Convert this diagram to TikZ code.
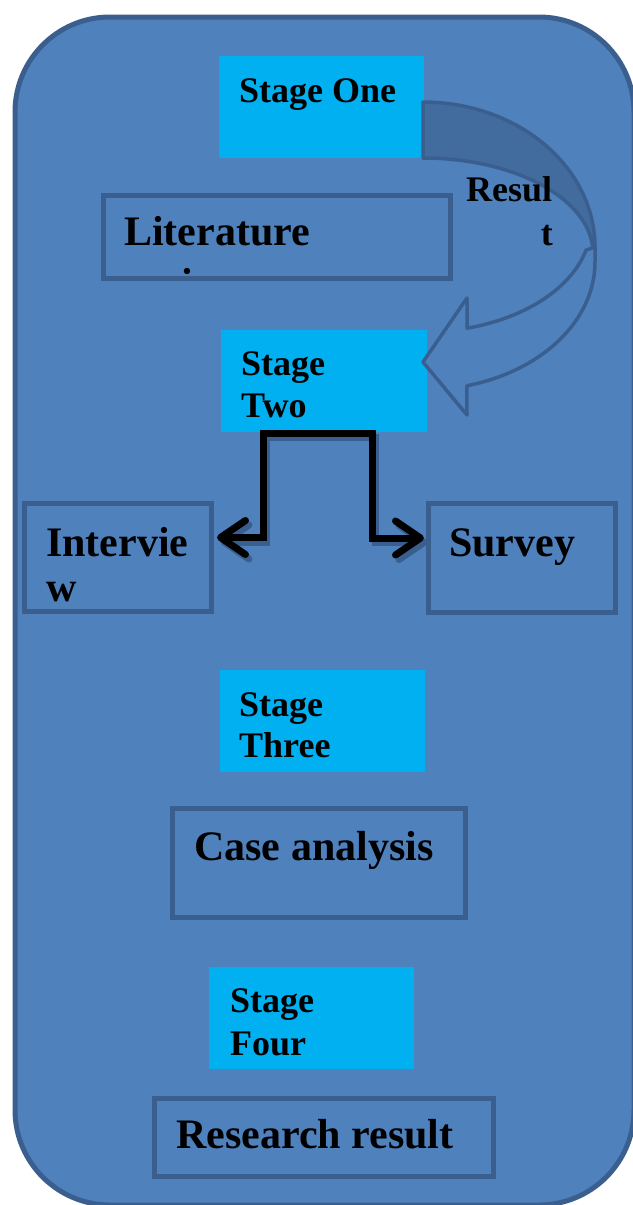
\documentclass[tikz,border=0pt]{standalone}
\usepackage{fontspec}
\setmainfont{Liberation Serif}
\usetikzlibrary{arrows.meta,calc}
\definecolor{bg}{HTML}{4F81BD}
\definecolor{bd}{HTML}{3A5F8E}
\definecolor{cy}{HTML}{00B0F0}
\definecolor{band}{HTML}{426B9E}
\definecolor{shad}{HTML}{3A5F8E}
\begin{document}
\begin{tikzpicture}[x=1pt,y=-1pt,
  stagebox/.style={fill=cy, draw=none, inner sep=0pt, outer sep=0pt, minimum width=205pt, minimum height=102pt, anchor=north west},
  framebox/.style={draw=bd, line width=5pt, inner sep=0pt, outer sep=0pt, anchor=north west},
  stt/.style={font=\fontsize{36}{42}\selectfont\bfseries, inner sep=0pt, anchor=base west},
  bxt/.style={font=\fontsize{42}{48}\selectfont\bfseries, inner sep=0pt, anchor=base west},
  conn/.style={line width=7pt, -{Straight Barb[length=25pt,width=34pt,round]}},
  ribbon/.style={draw=bd, line width=3.5pt, line join=round}
]
\useasboundingbox (0,0) rectangle (632,1205);
\fill[white] (0,0) rectangle (632,1205);
% outer panel
\filldraw[fill=bg, draw=bd, line width=5pt, rounded corners=95pt] (15,17) rectangle (634,1205);

% stage boxes
\node[stagebox] (s1) at (219,56) {};
\node[stagebox, minimum width=206pt] (s2) at (221,330) {};
\node[stagebox] (s3) at (220,670) {};
\node[stagebox] (s4) at (209,967) {};

% Literature box text, clipped to the inside of its frame
\begin{scope}
  \clip (106,198) rectangle (448,275.5);
  \node[bxt] (t2) at (124,245) {Literature};
  \node[bxt] (t3) at (124,297) {review};
\end{scope}

% framed boxes
\node[framebox, minimum width=347pt, minimum height=82.5pt] (lit) at (103.5,195.5) {};
\node[framebox, minimum width=187pt, minimum height=108pt] (iv) at (24.5,503.5) {};
\node[framebox, minimum width=187pt, minimum height=109pt] (sv) at (428.5,503.5) {};
\node[framebox, minimum width=293pt, minimum height=109pt] (ca) at (172.5,808.5) {};
\node[framebox, minimum width=339pt, minimum height=78pt] (rr) at (154.5,1098.5) {};

% curved "Result" arrow: back part
\filldraw[fill=band, ribbon]
  plot[domain=90:0, samples=50] ({423+172*cos(\x)},{247-145*sin(\x)})
  -- plot[domain=0:90, samples=50] ({423+170*cos(\x)},{253-95*sin(\x)})
  -- cycle;
% front part with head
\filldraw[fill=bg, ribbon]
  (595,247)
  -- plot[domain=0:75.2, samples=50] ({423+172*cos(\x)},{262+128*sin(\x)})
  -- (467,415) -- (423,362) -- (467,298)
  -- plot[domain=74.8:14, samples=50] ({423+168*cos(\x)},{224+108*sin(\x)})
  -- cycle;

% connectors from Stage Two
\coordinate (c0) at ($(s2.south)+(-10,1)$);
\begin{scope}[transform canvas={shift={(3.5pt,-4.5pt)}}]
  \draw[conn, shad] (c0) -- ++(-51,0) |- ($(iv.east)+(5.5,-20)$);
  \draw[conn, shad] (c0) -- ++(58,0) |- ($(sv.west)+(-4.5,-20)$);
\end{scope}
\draw[conn, black] (c0) -- ++(-51,0) |- ($(iv.east)+(5.5,-20)$);
\draw[conn, black] (c0) -- ++(58,0) |- ($(sv.west)+(-4.5,-20)$);

% texts
\node[stt] (t1) at (239,102) {Stage One};
\node[stt] (r1) at (466,201) {Resul};
\node[stt, anchor=base east] (r2) at (553,245) {t};
\node[stt] (t4) at (241,375) {Stage};
\node[stt] (t5) at (241,417) {Two};
\node[bxt] (t6) at (46,556) {Intervie};
\node[bxt] (t7) at (46,601) {w};
\node[bxt] (t8) at (449,556) {Survey};
\node[stt] (t9) at (239,716) {Stage};
\node[stt] (t10) at (239,757) {Three};
\node[bxt] (t11) at (194,860) {Case analysis};
\node[stt] (t12) at (230,1012) {Stage};
\node[stt] (t13) at (230,1055) {Four};
\node[bxt] (t14) at (176,1148) {Research result};
\end{tikzpicture}
\end{document}
